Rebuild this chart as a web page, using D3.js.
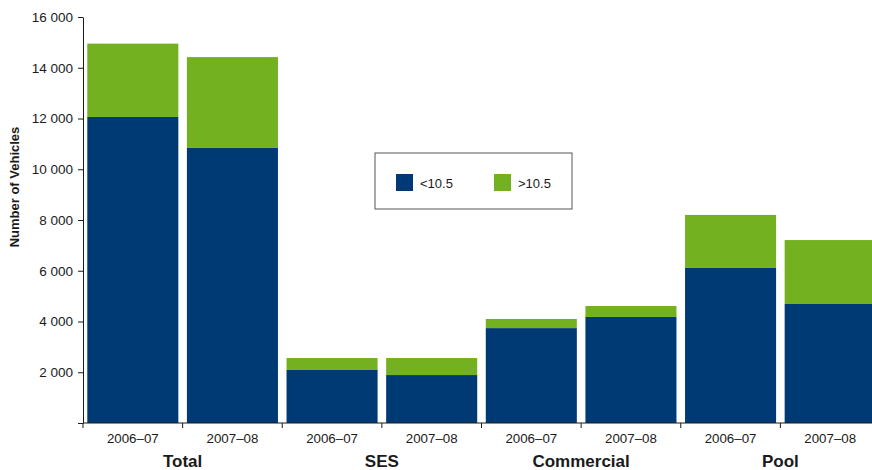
<!DOCTYPE html>
<html>
<head>
<meta charset="utf-8">
<script src="https://cdn.jsdelivr.net/npm/d3@7"></script>
<style>
	body { margin: 0; background: #fff; }
	text { font-family: "Liberation Sans", Arial, sans-serif; fill: #1a1a1a; }
</style>
</head>
<body>
<div id="chart"></div>
<script>
// data
var groups = ["Total", "SES", "Commercial", "Pool"];
var years = ["2006\u201307", "2007\u201308"];
var below = [12060, 10840, 2090, 1890, 3740, 4180, 6110, 4690];   // <10.5
var above = [2890, 3580, 470, 670, 360, 430, 2090, 2520];         // >10.5
var yTicks = [0, 2000, 4000, 6000, 8000, 10000, 12000, 14000, 16000];
var seriesNames = ["<10.5", ">10.5"];
var colors = ["#003a75", "#74b120"];

var width = 872, height = 470;
var plotLeft = 83, plotBottom = 423, plotTop = 17, plotRight = 880;

var svg = d3.select("#chart").append("svg")
	.attr("width", width)
	.attr("height", height);

// one row per bar
var rows = [];
groups.forEach(function(g, gi) {
	years.forEach(function(yr, yi) {
		var i = gi * 2 + yi;
		rows.push({ key: g + "|" + yr, group: g, year: yr, below: below[i], above: above[i] });
	});
});

var x = d3.scaleBand()
	.domain(rows.map(function(d) { return d.key; }))
	.range([plotLeft, plotRight])
	.paddingInner(0.086)
	.paddingOuter(0.043);

var y = d3.scaleLinear()
	.domain([0, 16000])
	.range([plotBottom, plotTop]);

var stack = d3.stack().keys(["below", "above"]);
var layers = stack(rows);

svg.append("g")
	.selectAll("g")
	.data(layers)
	.enter()
	.append("g")
	.attr("fill", function(d, i) { return colors[i]; })
	.selectAll("rect")
	.data(function(d) { return d; })
	.enter()
	.append("rect")
	.attr("x", function(d) { return x(d.data.key); })
	.attr("y", function(d) { return y(d[1]); })
	.attr("width", x.bandwidth())
	.attr("height", function(d) { return y(d[0]) - y(d[1]); });

// Y axis
var fmt = d3.formatLocale({ decimal: ".", thousands: " ", grouping: [3], currency: ["", ""] }).format(",");
var yAxis = svg.append("g")
	.attr("transform", "translate(" + plotLeft + ",0)")
	.call(d3.axisLeft(y)
		.tickValues(yTicks)
		.tickSize(5)
		.tickSizeOuter(0)
		.tickPadding(5)
		.tickFormat(function(d) { return d === 0 ? "" : fmt(d); }));
yAxis.selectAll("text").style("font-size", "13.5px").style("font-family", "'Liberation Sans', Arial, sans-serif").attr("fill", "#1a1a1a");
yAxis.selectAll("line, path").attr("stroke", "#1a1a1a");

// X axis line and boundary ticks
var step = x.step();
svg.append("line")
	.attr("x1", plotLeft).attr("x2", width)
	.attr("y1", plotBottom).attr("y2", plotBottom)
	.attr("stroke", "#1a1a1a");
svg.append("g")
	.selectAll("line")
	.data(d3.range(rows.length))
	.enter()
	.append("line")
	.attr("x1", function(i) { return plotLeft + step * i; })
	.attr("x2", function(i) { return plotLeft + step * i; })
	.attr("y1", plotBottom)
	.attr("y2", plotBottom + 5)
	.attr("stroke", "#1a1a1a");

// year labels
svg.append("g")
	.selectAll("text")
	.data(rows)
	.enter()
	.append("text")
	.attr("x", function(d) { return x(d.key) + x.bandwidth() / 2; })
	.attr("y", 443)
	.attr("text-anchor", "middle")
	.style("font-size", "13.3px")
	.text(function(d) { return d.year; });

// group labels
svg.append("g")
	.selectAll("text")
	.data(groups)
	.enter()
	.append("text")
	.attr("x", function(d, i) { return plotLeft + step * (2 * i + 1); })
	.attr("y", 467)
	.attr("text-anchor", "middle")
	.style("font-size", "17px")
	.style("font-weight", "bold")
	.text(function(d) { return d; });

// Y label
svg.append("text")
	.attr("transform", "translate(19,187) rotate(-90)")
	.attr("text-anchor", "middle")
	.style("font-size", "13px")
	.style("font-weight", "bold")
	.text("Number of Vehicles");

// legend
var legend = svg.append("g").attr("transform", "translate(375,153)");
legend.append("rect")
	.attr("width", 197)
	.attr("height", 56)
	.attr("fill", "#fff")
	.attr("stroke", "#555")
	.attr("stroke-width", 1);
var item = legend.selectAll("g.item")
	.data(seriesNames)
	.enter()
	.append("g")
	.attr("class", "item")
	.attr("transform", function(d, i) { return "translate(" + (21 + i * 98) + ",21)"; });
item.append("rect")
	.attr("width", 17)
	.attr("height", 17)
	.attr("fill", function(d, i) { return colors[i]; });
item.append("text")
	.attr("x", 24)
	.attr("y", 13.5)
	.style("font-size", "13px")
	.text(function(d) { return d; });
</script>
</body>
</html>
